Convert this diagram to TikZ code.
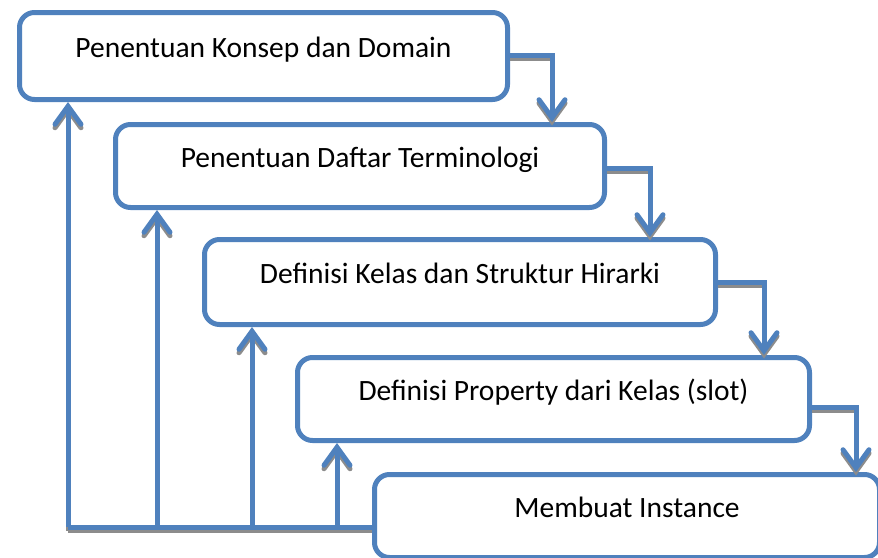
\documentclass[tikz,border=0pt]{standalone}
\usepackage{fontspec}
\setmainfont{Carlito}
\usetikzlibrary{arrows.meta}
\definecolor{bl}{HTML}{4F81BD}
\definecolor{sh}{HTML}{8C8C8C}
\tikzset{
  box/.style={draw=bl, line width=5pt, rounded corners=15pt, fill=white,
    anchor=north west, inner sep=0pt, text height=20pt, text depth=17pt,
    font=\fontsize{29.5}{36}\selectfont},
  conn/.style={draw=bl, line width=5pt},
  shad/.style={draw=sh, line width=5pt},
  tip/.style={-{Straight Barb[length=18pt,width=26pt,line width=5pt,line cap=round]}},
}
\begin{document}
\begin{tikzpicture}[x=1pt,y=-1pt]
\useasboundingbox (0,0) rectangle (878,557);
% boxes
\node[box, minimum width=488pt, minimum height=87pt] (b1) at (17,10) {Penentuan Konsep dan Domain};
\node[box, minimum width=489pt, minimum height=83pt] (b2) at (113,122) {Penentuan Daftar Terminologi};
\node[box, minimum width=511pt, minimum height=85pt] (b3) at (202,237) {Definisi Kelas dan Struktur Hirarki};
\node[box, minimum width=512pt, minimum height=83pt] (b4) at (295,355) {Definisi Property dari Kelas (slot)};
\node[box, minimum width=505pt, minimum height=83pt] (b5) at (372,472) {Membuat Instance};
% turning points
\coordinate (t1) at (552,55);
\coordinate (t2) at (650,168);
\coordinate (t3) at (764,282);
\coordinate (t4) at (856,407);
\coordinate (c1) at (68,527);
\coordinate (c2) at (157,527);
\coordinate (c3) at (252,527);
\coordinate (c4) at (337,527);
% shadows
\begin{scope}[transform canvas={xshift=0pt,yshift=-3.5pt}]
\draw[shad] (b1.east |- t1) -- (t1);
\draw[shad] (b2.east |- t2) -- (t2);
\draw[shad] (b3.east |- t3) -- (t3);
\draw[shad] (b4.east |- t4) -- (t4);
\draw[shad] (c1) -- (b5.west |- c1);
\draw[shad,tip] (t1) -- (t1 |- b2.north);
\draw[shad,tip] (t2) -- (t2 |- b3.north);
\draw[shad,tip] (t3) -- (t3 |- b4.north);
\draw[shad,tip] (t4) -- (t4 |- b5.north);
\draw[shad,tip] (c1) -- (c1 |- b1.south);
\draw[shad,tip] (c2) -- (c2 |- b2.south);
\draw[shad,tip] (c3) -- (c3 |- b3.south);
\draw[shad,tip] (c4) -- (c4 |- b4.south);
\end{scope}
% connectors
\draw[conn,tip] (b1.east |- t1) -- (t1) -- (t1 |- b2.north);
\draw[conn,tip] (b2.east |- t2) -- (t2) -- (t2 |- b3.north);
\draw[conn,tip] (b3.east |- t3) -- (t3) -- (t3 |- b4.north);
\draw[conn,tip] (b4.east |- t4) -- (t4) -- (t4 |- b5.north);
\draw[conn] (c1) -- (b5.west |- c1);
\draw[conn,tip] (c1) -- (c1 |- b1.south);
\draw[conn,tip] (c2) -- (c2 |- b2.south);
\draw[conn,tip] (c3) -- (c3 |- b3.south);
\draw[conn,tip] (c4) -- (c4 |- b4.south);
\end{tikzpicture}
\end{document}
